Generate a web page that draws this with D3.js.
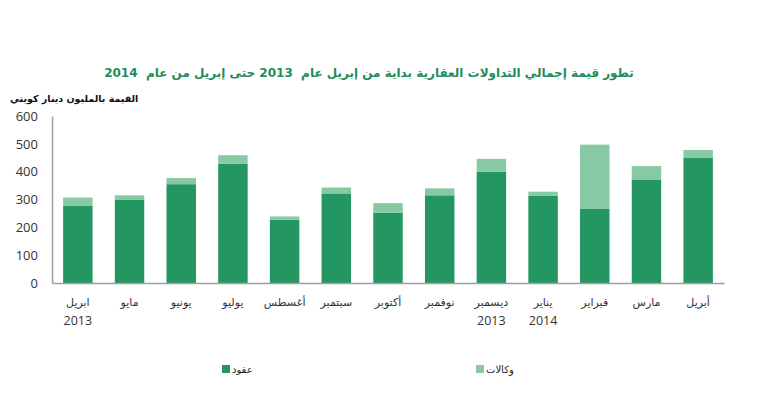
<!DOCTYPE html>
<html>
<head>
<meta charset="utf-8">
<script src="https://cdn.jsdelivr.net/npm/d3@7"></script>
<style>
  body { margin: 0; background: #fff; }
  text { font-family: "DejaVu Sans", "Noto Sans", sans-serif; }
</style>
</head>
<body>
<div id="chart"></div>
<script>
'use strict';
// months, left to right (April 2013 .. April 2014)
var months = ['ابريل', 'مايو', 'يونيو', 'يوليو', 'أغسطس', 'سبتمبر', 'أكتوبر',
              'نوفمبر', 'ديسمبر', 'يناير', 'فبراير', 'مارس', 'أبريل'];
var years = ['2013', '', '', '', '', '', '', '', '2013', '2014', '', '', ''];
// contracts (dark) and agencies (light), million KWD
var contracts = [277, 300, 355, 428, 228, 322, 252, 315, 400, 313, 266, 372, 449];
var agencies  = [30, 15, 22, 31, 11, 21, 35, 25, 46, 15, 231, 48, 29];
var yTicks = [0, 100, 200, 300, 400, 500, 600];

var dark = '#239662', light = '#86c9a2';

var width = 770, height = 405;
var margin = {left: 52, right: 46, top: 116, bottom: 122};

var svg = d3.select('#chart').append('svg')
    .attr('width', width)
    .attr('height', height);

var x = d3.scaleBand()
    .domain(d3.range(months.length))
    .range([margin.left, width - margin.right])
    .paddingInner(0.43)
    .paddingOuter(0.215);

var y = d3.scaleLinear()
    .domain([0, 600])
    .range([height - margin.bottom, margin.top]);

// title
svg.append('text')
    .attr('x', 369)
    .attr('y', 77)
    .attr('text-anchor', 'middle')
    .style('white-space', 'pre')
    .style('font-size', '12px')
    .style('font-weight', 'bold')
    .attr('fill', '#1f8c5b')
    .text('تطور قيمة إجمالي التداولات العقارية بداية من إبريل عام  2013 حتى إبريل من عام  2014');

// y axis label
svg.append('text')
    .attr('x', 10)
    .attr('y', 102)
    .attr('text-anchor', 'start')
    .style('font-size', '9.5px')
    .style('font-weight', 'bold')
    .attr('fill', '#111')
    .text('القيمة بالمليون دينار كويتي');

// bars
var g = svg.append('g');
g.selectAll('.c')
    .data(contracts)
  .enter().append('rect')
    .attr('class', 'c')
    .attr('x', function(d, i) { return x(i); })
    .attr('width', x.bandwidth())
    .attr('y', function(d) { return y(d); })
    .attr('height', function(d) { return y(0) - y(d); })
    .attr('fill', dark);

g.selectAll('.a')
    .data(agencies)
  .enter().append('rect')
    .attr('class', 'a')
    .attr('x', function(d, i) { return x(i); })
    .attr('width', x.bandwidth())
    .attr('y', function(d, i) { return y(contracts[i] + d); })
    .attr('height', function(d) { return y(0) - y(d); })
    .attr('fill', light);

// y axis
var yAxis = svg.append('g')
    .attr('transform', 'translate(' + margin.left + ',0)')
    .call(d3.axisLeft(y).tickValues(yTicks).tickSize(0).tickPadding(14));
yAxis.select('.domain').attr('stroke', '#a0a0a0').attr('stroke-width', 1.5);
yAxis.selectAll('text')
    .style('font-family', '"Open Sans", sans-serif')
    .style('font-size', '13px')
    .attr('fill', '#333');

// x axis
var xAxis = svg.append('g')
    .attr('transform', 'translate(0,' + y(0) + ')')
    .call(d3.axisBottom(x).tickSize(0).tickFormat(''));
xAxis.select('.domain').attr('stroke', '#a0a0a0').attr('stroke-width', 1.5);

// x labels
svg.selectAll('.m')
    .data(months)
  .enter().append('text')
    .attr('class', 'm')
    .attr('x', function(d, i) { return x(i) + x.bandwidth() / 2; })
    .attr('y', 306)
    .attr('text-anchor', 'middle')
    .style('font-size', '11px')
    .attr('fill', '#333')
    .text(function(d) { return d; });

svg.selectAll('.yr')
    .data(years)
  .enter().append('text')
    .attr('class', 'yr')
    .attr('x', function(d, i) { return x(i) + x.bandwidth() / 2; })
    .attr('y', 325)
    .attr('text-anchor', 'middle')
    .style('font-family', '"Open Sans", sans-serif')
    .style('font-size', '12.5px')
    .attr('fill', '#333')
    .text(function(d) { return d; });

// legend
var legend = [
  {name: 'عقود', color: dark, x: 222},
  {name: 'وكالات', color: light, x: 476}
];
var lg = svg.selectAll('.lg')
    .data(legend)
  .enter().append('g')
    .attr('transform', function(d) { return 'translate(' + d.x + ',369)'; });
lg.append('rect')
    .attr('x', 0).attr('y', -4)
    .attr('width', 8).attr('height', 8)
    .attr('fill', function(d) { return d.color; });
lg.append('text')
    .attr('x', 10)
    .attr('y', 4)
    .style('font-size', '10px')
    .attr('fill', '#222')
    .text(function(d) { return d.name; });
</script>
</body>
</html>
